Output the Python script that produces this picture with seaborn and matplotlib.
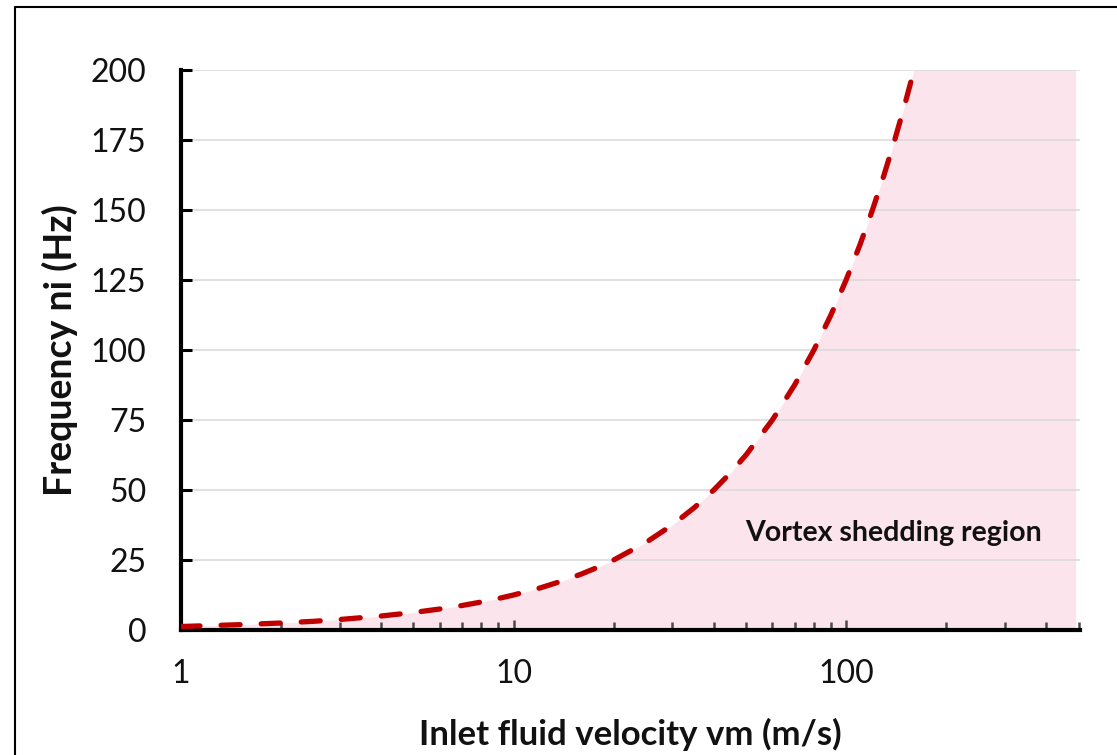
import numpy as np
import pandas as pd
import matplotlib
matplotlib.use("Agg")
import matplotlib.pyplot as plt
from matplotlib.lines import Line2D
from matplotlib.ticker import FixedLocator, NullFormatter, FixedFormatter
import seaborn as sns

# ---- data ----
velocity = [1, 1.5, 2, 2.5, 3, 4, 5, 6, 7, 8, 9, 10, 12, 14, 16, 18, 20, 25, 30, 35,
            40, 45, 50, 60, 70, 80, 90, 100, 110, 120, 130, 140, 150, 160]
frequency = [1.25, 1.9, 2.5, 3.1, 3.75, 5, 6.25, 7.5, 8.75, 10, 11.25, 12.5, 15, 17.5,
             20, 22.5, 25, 31.25, 37.5, 43.75, 50, 56.25, 62.5, 75, 87.5, 100, 112.5,
             125, 137.5, 150, 162.5, 175, 187.5, 200]
region_right = 490
region_label = "Vortex shedding region"
x_major = [1, 10, 100]
x_major_labels = ["1", "10", "100"]
x_minor = [2, 3, 4, 5, 6, 7, 8, 9, 20, 30, 40, 50, 60, 70, 80, 90, 200, 300, 400, 500]
y_ticks = [0, 25, 50, 75, 100, 125, 150, 175, 200]
x_label = "Inlet fluid velocity vm (m/s)"
y_label = "Frequency ni (Hz)"

df = pd.DataFrame({"velocity": velocity, "frequency": frequency})

sns.set_theme(style="white")
plt.rcParams["font.family"] = ["Lato", "DejaVu Sans"]

fig = plt.figure(figsize=(11.17, 7.55), dpi=100)
ax = fig.add_axes([181 / 1117, 1 - 630 / 755, (1080 - 181) / 1117, (630 - 70) / 755])

# shaded region (below the curve, up to the right edge)
fill_x = velocity + [region_right]
fill_y = frequency + [frequency[-1]]
ax.fill_between(fill_x, 0, fill_y, color="#FCE4EC", linewidth=0, zorder=0)

sns.lineplot(data=df, x="velocity", y="frequency", ax=ax, color="#C00000",
             linewidth=3.8, zorder=3)
ax.lines[-1].set_dashes((3.6, 4.0))
ax.lines[-1].set_dash_capstyle("round")

ax.set_xscale("log")
ax.set_xlim(1, 505)
ax.set_ylim(0, 200)

ax.xaxis.set_major_locator(FixedLocator(x_major))
ax.xaxis.set_major_formatter(FixedFormatter(x_major_labels))
ax.xaxis.set_minor_locator(FixedLocator(x_minor))
ax.xaxis.set_minor_formatter(NullFormatter())
ax.set_yticks(y_ticks)
ax.set_yticklabels([str(v) for v in y_ticks])

ax.yaxis.grid(True, color="#D9D9D9", linewidth=1.1)
ax.xaxis.grid(False)
ax.set_axisbelow(True)

for s in ["top", "right"]:
    ax.spines[s].set_visible(False)
for s in ["left", "bottom"]:
    ax.spines[s].set_visible(True)
    ax.spines[s].set_color("black")
    ax.spines[s].set_linewidth(3)

ax.tick_params(axis="y", which="major", direction="in", length=8, width=2.2,
               color="black", labelsize=23, pad=25, left=True)
ax.tick_params(axis="x", which="major", direction="in", length=7, width=1.8,
               color="#4a4a4a", labelsize=23, pad=21, bottom=True)
ax.tick_params(axis="x", which="minor", direction="in", length=5.5, width=1.8,
               color="#4a4a4a", bottom=True)
for lab in ax.get_xticklabels() + ax.get_yticklabels():
    lab.set_color("#111111")

ax.set_xlabel(x_label, fontsize=25, fontweight="bold", labelpad=21, color="#111111")
ax.set_ylabel(y_label, fontsize=27, fontweight="bold", labelpad=9, color="#111111")

ax.text(139, 34.5, region_label, fontsize=20.5, fontweight="bold", ha="center",
        va="center", color="#111111", zorder=4)

# outer frame (top and left edges visible in the reference)
fig.add_artist(Line2D([15 / 1117, 1.0], [1 - 7 / 755, 1 - 7 / 755],
                      transform=fig.transFigure, color="black", linewidth=1.5))
fig.add_artist(Line2D([15 / 1117, 15 / 1117], [0, 1 - 7 / 755],
                      transform=fig.transFigure, color="black", linewidth=1.5))

fig.savefig("out.png", dpi=100)
